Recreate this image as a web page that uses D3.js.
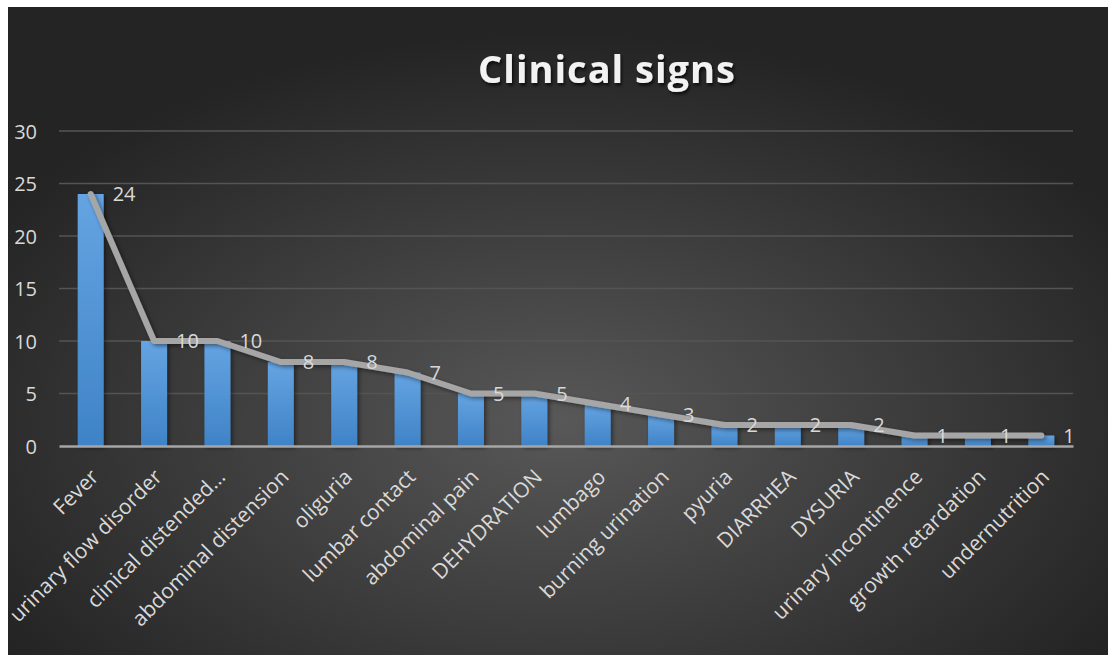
<!DOCTYPE html>
<html><head><meta charset="utf-8">
<script src="https://cdn.jsdelivr.net/npm/d3@7"></script>
<style>html,body{margin:0;padding:0;background:#fff;}svg{display:block;font-family:"Open Sans",sans-serif;}</style>
</head><body>
<script>
const categories = ["Fever","urinary flow disorder","clinical distended…","abdominal distension","oliguria","lumbar contact","abdominal pain","DEHYDRATION","lumbago","burning urination","pyuria","DIARRHEA","DYSURIA","urinary incontinence","growth retardation","undernutrition"];
const values = [24,10,10,8,8,7,5,5,4,3,2,2,2,1,1,1];
const yTicks = [0,5,10,15,20,25,30];
const title = "Clinical signs";

(function(){
const W = 1108, H = 655;
const svg = d3.select("body").append("svg").attr("width", W).attr("height", H);
const defs = svg.append("defs");
const bg = defs.append("radialGradient").attr("id","bg").attr("cx","50%").attr("cy","64%").attr("r","60%");
bg.append("stop").attr("offset","0%").attr("stop-color","#585858");
bg.append("stop").attr("offset","100%").attr("stop-color","#242424");
const bar = defs.append("linearGradient").attr("id","bar").attr("x1",0).attr("y1",0).attr("x2",0).attr("y2",1);
bar.append("stop").attr("offset","0%").attr("stop-color","#65a4e2");
bar.append("stop").attr("offset","100%").attr("stop-color","#3f83c7");
const sh = defs.append("filter").attr("id","sh").attr("x","-50%").attr("y","-50%").attr("width","200%").attr("height","200%");
sh.append("feDropShadow").attr("dx",2).attr("dy",2).attr("stdDeviation",2).attr("flood-color","#000").attr("flood-opacity",0.45);
const tsh = defs.append("filter").attr("id","tsh").attr("x","-20%").attr("y","-50%").attr("width","140%").attr("height","200%");
tsh.append("feDropShadow").attr("dx",1.5).attr("dy",2.5).attr("stdDeviation",1.5).attr("flood-color","#000").attr("flood-opacity",0.7);

svg.append("rect").attr("x",8).attr("y",7).attr("width",W-8).attr("height",H-7).attr("fill","url(#bg)");

const pl = 59, pr = 1073, pt = 131, pb = 446;
const x = d3.scaleBand().domain(categories).range([pl, pr]).paddingInner(0.59).paddingOuter(0.295);
const y = d3.scaleLinear().domain([0,30]).range([pb, pt]);

svg.append("g").selectAll("line").data(yTicks.filter(d=>d>0)).join("line")
  .attr("x1",pl).attr("x2",pr).attr("y1",d=>y(d)).attr("y2",d=>y(d))
  .attr("stroke","#545454").attr("stroke-width",1.5);

const yAxis = d3.axisLeft(y).tickValues(yTicks).tickSize(0).tickPadding(0);
const gy = svg.append("g").attr("transform",`translate(37,0)`).call(yAxis);
gy.select(".domain").remove();
gy.selectAll("text").attr("fill","#d9d9d9").style("font-size","20px").style("font-family","'Open Sans',sans-serif").attr("dy","0.35em");

svg.append("g").attr("filter","url(#sh)").selectAll("rect").data(values).join("rect")
  .attr("x",(d,i)=>x(categories[i])).attr("width",x.bandwidth())
  .attr("y",d=>y(d)).attr("height",d=>y(0)-y(d)).attr("fill","url(#bar)");

const xAxis = d3.axisBottom(x).tickSize(0).tickPadding(0);
const gx = svg.append("g").attr("transform",`translate(0,${pb})`).call(xAxis);
gx.select(".domain").attr("stroke","#a6a6a6").attr("stroke-width",2.5);
gx.selectAll("text").attr("fill","#d9d9d9").style("font-size","21px").style("font-family","'Open Sans',sans-serif")
  .attr("text-anchor","end").attr("y",0).attr("dy","0.35em")
  .attr("transform","translate(4,27) rotate(-45)");

const line = d3.line().x((d,i)=>x(categories[i])+x.bandwidth()/2).y(d=>y(d));
svg.append("path").datum(values).attr("d",line).attr("fill","none")
  .attr("stroke","#a6a6a6").attr("stroke-width",6).attr("stroke-linecap","round").attr("stroke-linejoin","round")
  .attr("filter","url(#sh)");

svg.append("g").selectAll("text").data(values).join("text")
  .attr("x",(d,i)=>x(categories[i])+x.bandwidth()/2+22).attr("y",d=>y(d)).attr("dy","0.35em")
  .attr("fill","#d9d9d9").style("font-size","20px").text(d=>d);

svg.append("text").attr("x",607).attr("y",83).attr("text-anchor","middle")
  .attr("fill","#f2f2f2").style("font-size","38px").style("font-weight","bold").style("letter-spacing","1px").attr("filter","url(#tsh)")
  .text(title);
})();
</script>
</body></html>
